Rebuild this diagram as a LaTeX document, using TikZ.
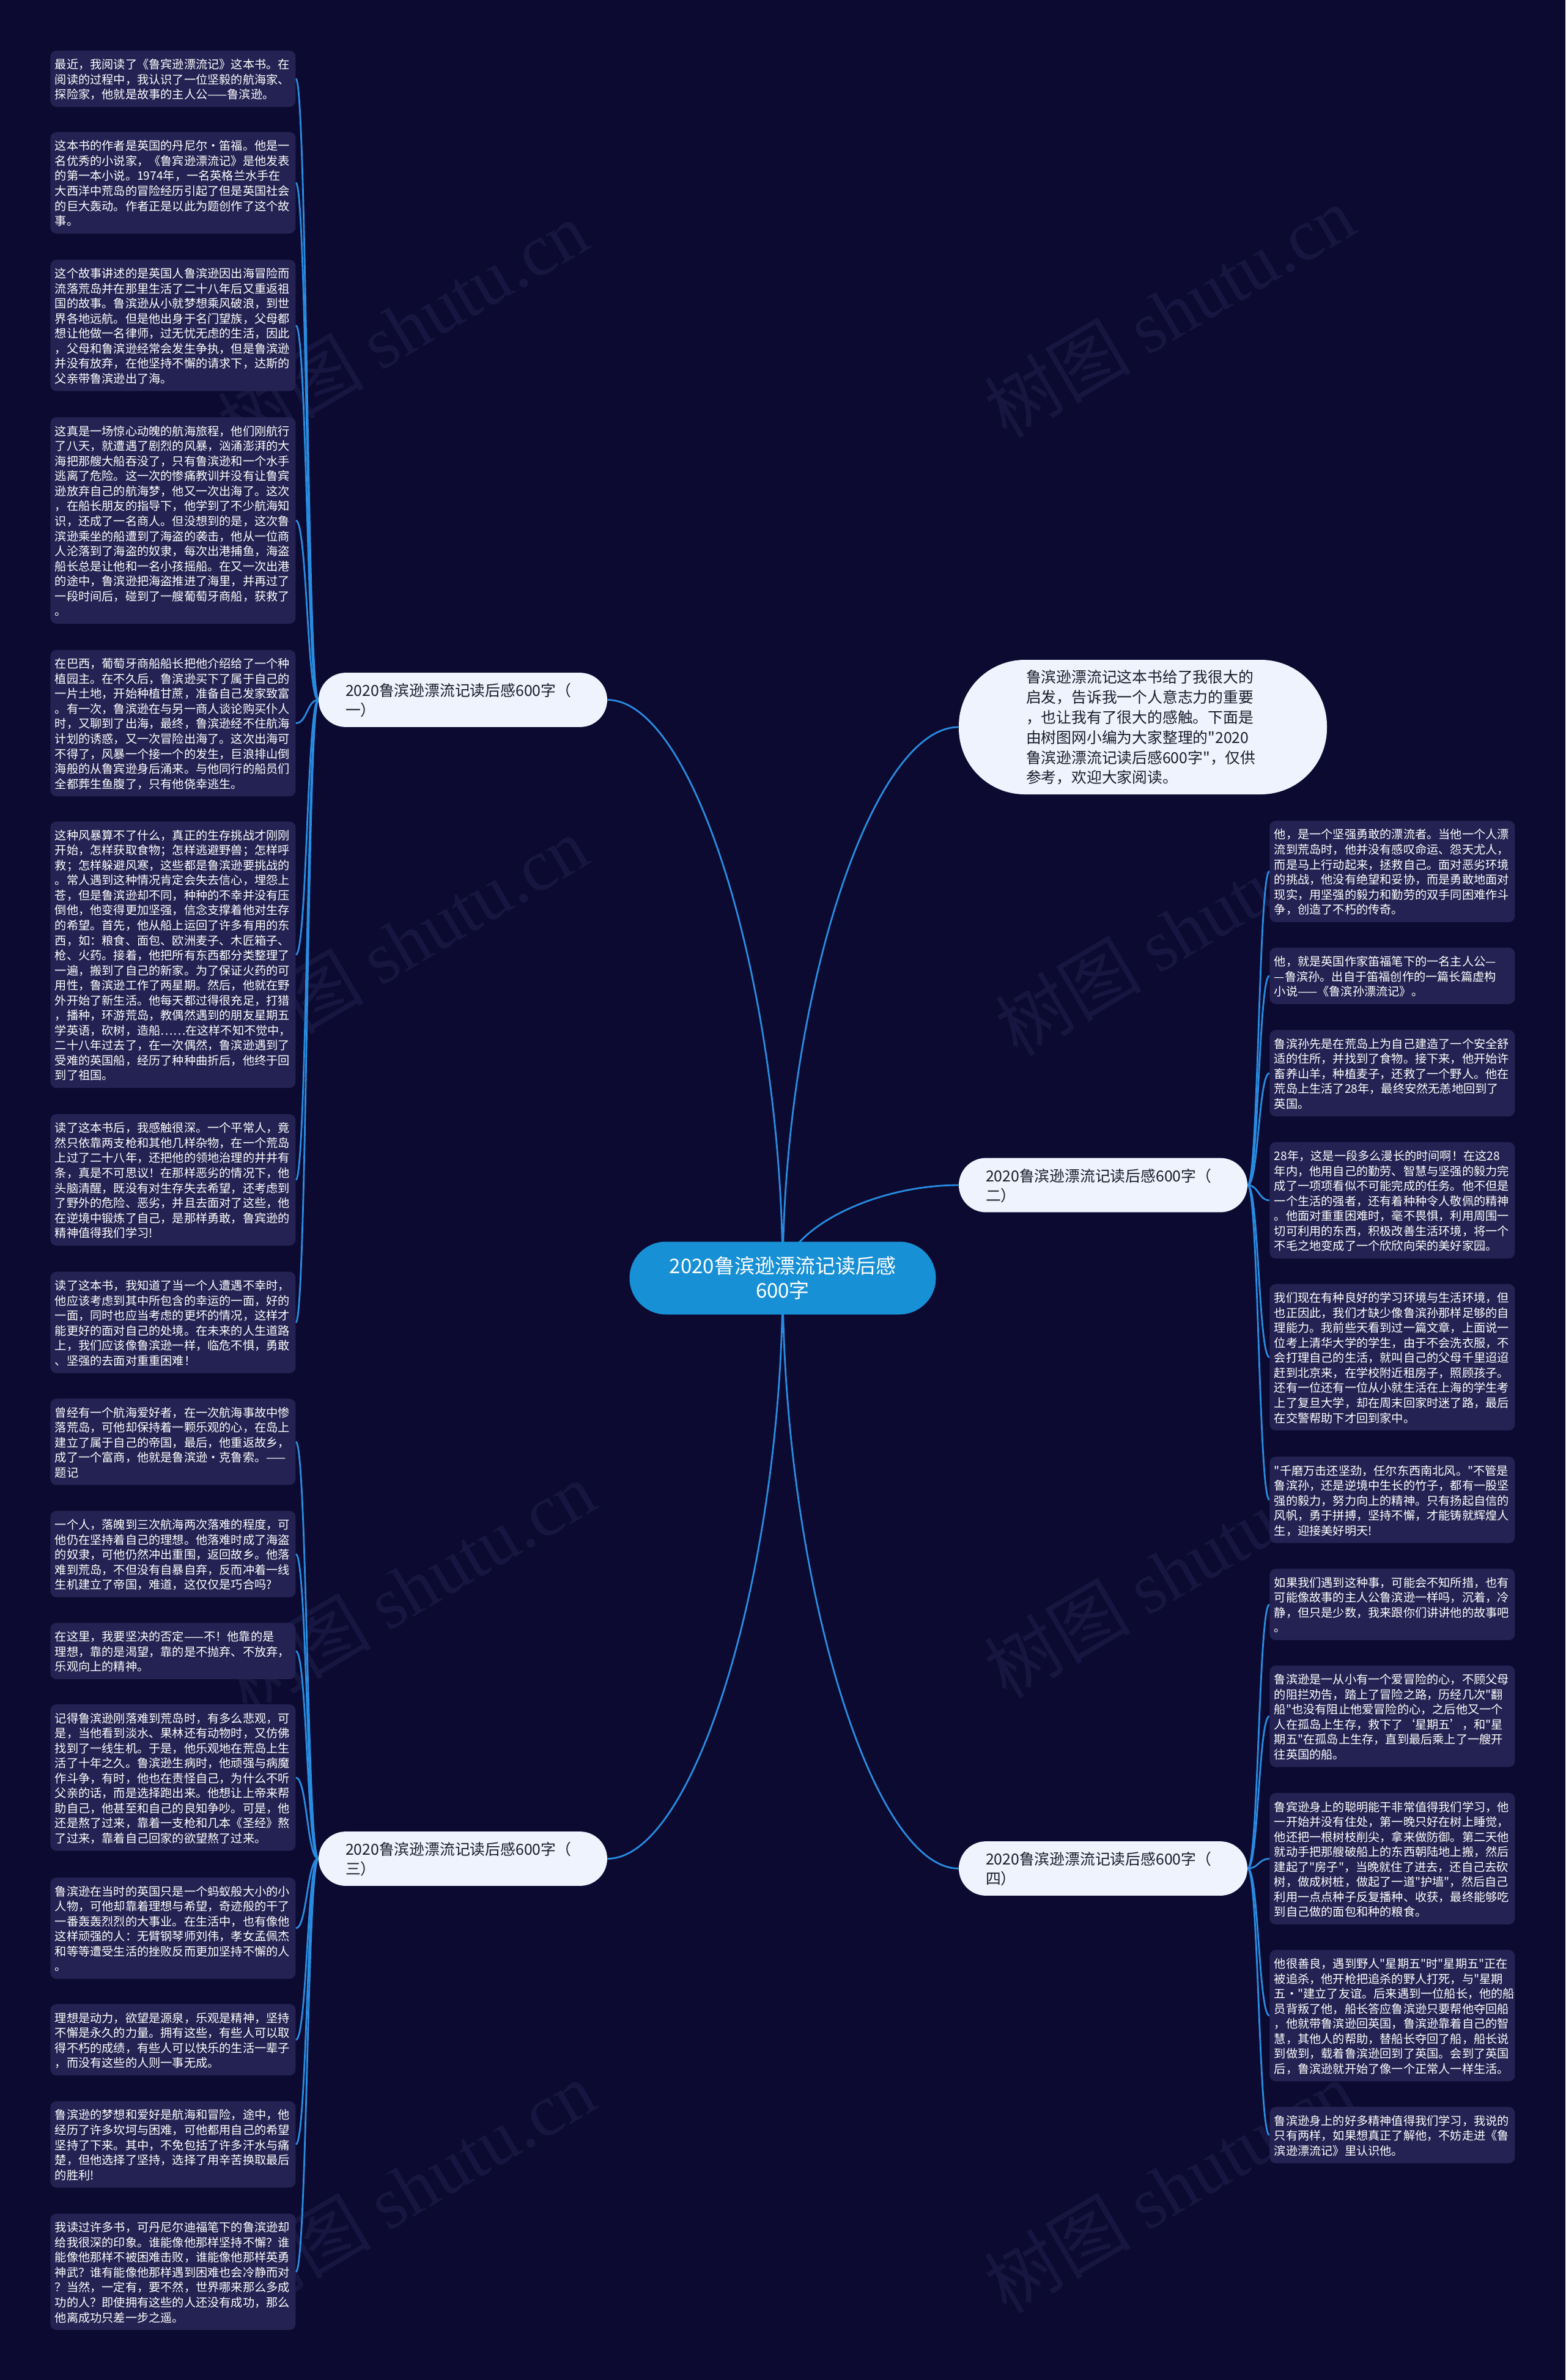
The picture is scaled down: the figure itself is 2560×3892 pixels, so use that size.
\documentclass[tikz,border=0pt]{standalone}
\usepackage{fontspec}
\setmainfont{Noto Sans CJK SC}[Ligatures=TeXOff]
\newfontfamily\wmlat{Liberation Serif}
\usetikzlibrary{calc}
\pgfdeclarelayer{back}
\pgfdeclarelayer{bg}
\pgfsetlayers{back,bg,main}
\definecolor{bgc}{RGB}{12,10,48}
\definecolor{leafc}{RGB}{36,34,82}
\definecolor{linec}{RGB}{40,140,225}
\definecolor{rootc}{RGB}{24,144,214}
\definecolor{lightc}{RGB}{238,243,253}
\definecolor{darkt}{RGB}{28,28,45}
\definecolor{wm}{RGB}{23,22,64}
\newcommand\lstrut{\rule[-1.96pt]{0pt}{12.275pt}}
\newcommand\leafont{\fontsize{9.6pt}{12.275pt}\selectfont}
\newcommand\brfont{\fontsize{12.4pt}{16.15pt}\selectfont}
\newcommand\bsa{\rule{0pt}{13.2pt}}
\newcommand\bsb{\rule[-3.05pt]{0pt}{3.05pt}}
\newcommand\isa{\rule{0pt}{12.7pt}}
\tikzset{
  leaf/.style={anchor=north west, fill=leafc, rounded corners=5pt, text=white,
    font=\leafont, align=left, text width=193pt, inner xsep=3.75pt, inner ysep=4.625pt},
  conn/.style={draw=linec, line width=1.4pt},
  branch/.style={fill=lightc, text=darkt, rounded corners=22.2pt, font=\brfont,
    align=left, text width=192pt, inner xsep=22pt, inner ysep=6pt},
  rootnode/.style={fill=rootc, text=white, rounded corners=29.7pt, align=center,
    font=\fontsize{16.5pt}{20pt}\selectfont, minimum width=250.5pt, minimum height=59.5pt},
  intronode/.style={fill=lightc, text=darkt, rounded corners=54pt,
    font=\fontsize{12.4pt}{16.45pt}\selectfont, align=left, text width=191pt,
    inner xsep=55pt, inner ysep=6pt},
  wmark/.style={text=wm, font=\fontsize{60pt}{62pt}\selectfont, rotate=30.5}
}
\newcommand\leafnode[4]{\node[leaf] (#1) at (#2,#3) {\noindent\lstrut #4\lstrut};}
\newcommand\lk[2]{\draw[conn] let \p1=(#1), \p2=(#2) in (\p1) .. controls ({(\x1+\x2)/2},\y1) and ({(\x1+\x2)/2},\y2) .. (\p2);}
\newcommand\lkv[2]{\draw[conn] let \p1=(#1), \p2=(#2) in (\p1) .. controls (\x1,{(\y1+\y2)/2}) and ({(\x1+\x2)/2},\y2) .. (\p2);}
\begin{document}
\begin{tikzpicture}[x=0.5pt,y=-0.5pt]
\begin{pgfonlayer}{back}
\fill[bgc] (0,0) rectangle (2560,3892);
\useasboundingbox (0,0) rectangle (2560,3892);
\node[wmark] (w1) at (658,534) {树图 {\wmlat shutu.cn}};
\node[wmark] (w2) at (1912,509) {树图 {\wmlat shutu.cn}};
\node[wmark] (w3) at (658,1540) {树图 {\wmlat shutu.cn}};
\node[wmark] (w4) at (1930,1520) {树图 {\wmlat shutu.cn}};
\node[wmark] (w5) at (670,2595) {树图 {\wmlat shutu.cn}};
\node[wmark] (w6) at (1912,2570) {树图 {\wmlat shutu.cn}};
\node[wmark] (w7) at (670,3576) {树图 {\wmlat shutu.cn}};
\node[wmark] (w8) at (1912,3576) {树图 {\wmlat shutu.cn}};
\end{pgfonlayer}

% root and first level
\node[rootnode] (root) at (1280,2090) {2020鲁滨逊漂流记读后感\\600字};
\node[intronode] (intro) at (1869,1189) {\isa 鲁滨逊漂流记这本书给了我很大的\\启发，告诉我一个人意志力的重要\\，也让我有了很大的感触。下面是\\由树图网小编为大家整理的"2020\\鲁滨逊漂流记读后感600字"，仅供\\参考，欢迎大家阅读。\bsb};
\node[branch] (b1) at (757,1144.5) {\bsa 2020鲁滨逊漂流记读后感600字（\\一）\bsb};
\node[branch] (b2) at (1804,1938) {\bsa 2020鲁滨逊漂流记读后感600字（\\二）\bsb};
\node[branch] (b3) at (757,3039.5) {\bsa 2020鲁滨逊漂流记读后感600字（\\三）\bsb};
\node[branch] (b4) at (1804,3055.5) {\bsa 2020鲁滨逊漂流记读后感600字（\\四）\bsb};

% left leaves
\leafnode{l1}{82}{82.3}{最近，我阅读了《鲁宾逊漂流记》这本书。在\\
阅读的过程中，我认识了一位坚毅的航海家、\\
探险家，他就是故事的主人公——鲁滨逊。}
\leafnode{l2}{82}{215.6}{这本书的作者是英国的丹尼尔·笛福。他是一\\
名优秀的小说家，《鲁宾逊漂流记》是他发表\\
的第一本小说。1974年，一名英格兰水手在\\
大西洋中荒岛的冒险经历引起了但是英国社会\\
的巨大轰动。作者正是以此为题创作了这个故\\
事。}
\leafnode{l3}{82}{424.3}{这个故事讲述的是英国人鲁滨逊因出海冒险而\\
流落荒岛并在那里生活了二十八年后又重返祖\\
国的故事。鲁滨逊从小就梦想乘风破浪，到世\\
界各地远航。但是他出身于名门望族，父母都\\
想让他做一名律师，过无忧无虑的生活，因此\\
，父母和鲁滨逊经常会发生争执，但是鲁滨逊\\
并没有放弃，在他坚持不懈的请求下，达斯的\\
父亲带鲁滨逊出了海。}
\leafnode{l4}{82}{681.9}{这真是一场惊心动魄的航海旅程，他们刚航行\\
了八天，就遭遇了剧烈的风暴，汹涌澎湃的大\\
海把那艘大船吞没了，只有鲁滨逊和一个水手\\
逃离了危险。这一次的惨痛教训并没有让鲁宾\\
逊放弃自己的航海梦，他又一次出海了。这次\\
，在船长朋友的指导下，他学到了不少航海知\\
识，还成了一名商人。但没想到的是，这次鲁\\
滨逊乘坐的船遭到了海盗的袭击，他从一位商\\
人沦落到了海盗的奴隶，每次出港捕鱼，海盗\\
船长总是让他和一名小孩摇船。在又一次出港\\
的途中，鲁滨逊把海盗推进了海里，并再过了\\
一段时间后，碰到了一艘葡萄牙商船，获救了\\
。}
\leafnode{l5}{82}{1062.5}{在巴西，葡萄牙商船船长把他介绍给了一个种\\
植园主。在不久后，鲁滨逊买下了属于自己的\\
一片土地，开始种植甘蔗，准备自己发家致富\\
。有一次，鲁滨逊在与另一商人谈论购买仆人\\
时，又聊到了出海，最终，鲁滨逊经不住航海\\
计划的诱惑，又一次冒险出海了。这次出海可\\
不得了，风暴一个接一个的发生，巨浪排山倒\\
海般的从鲁宾逊身后涌来。与他同行的船员们\\
全都葬生鱼腹了，只有他侥幸逃生。}
\leafnode{l6}{82}{1342.9}{这种风暴算不了什么，真正的生存挑战才刚刚\\
开始，怎样获取食物；怎样逃避野兽；怎样呼\\
救；怎样躲避风寒，这些都是鲁滨逊要挑战的\\
。常人遇到这种情况肯定会失去信心，埋怨上\\
苍，但是鲁滨逊却不同，种种的不幸并没有压\\
倒他，他变得更加坚强，信念支撑着他对生存\\
的希望。首先，他从船上运回了许多有用的东\\
西，如：粮食、面包、欧洲麦子、木匠箱子、\\
枪、火药。接着，他把所有东西都分类整理了\\
一遍，搬到了自己的新家。为了保证火药的可\\
用性，鲁滨逊工作了两星期。然后，他就在野\\
外开始了新生活。他每天都过得很充足，打猎\\
，播种，环游荒岛，教偶然遇到的朋友星期五\\
学英语，砍树，造船……在这样不知不觉中，\\
二十八年过去了，在一次偶然，鲁滨逊遇到了\\
受难的英国船，经历了种种曲折后，他终于回\\
到了祖国。}
\leafnode{l7}{82}{1821.5}{读了这本书后，我感触很深。一个平常人，竟\\
然只依靠两支枪和其他几样杂物，在一个荒岛\\
上过了二十八年，还把他的领地治理的井井有\\
条，真是不可思议！在那样恶劣的情况下，他\\
头脑清醒，既没有对生存失去希望，还考虑到\\
了野外的危险、恶劣，并且去面对了这些，他\\
在逆境中锻炼了自己，是那样勇敢，鲁宾逊的\\
精神值得我们学习!}
\leafnode{l8}{82}{2079.3}{读了这本书，我知道了当一个人遭遇不幸时，\\
他应该考虑到其中所包含的幸运的一面，好的\\
一面，同时也应当考虑的更坏的情况，这样才\\
能更好的面对自己的处境。在未来的人生道路\\
上，我们应该像鲁滨逊一样，临危不惧，勇敢\\
、坚强的去面对重重困难！}
\leafnode{l9}{82}{2286.8}{曾经有一个航海爱好者，在一次航海事故中惨\\
落荒岛，可他却保持着一颗乐观的心，在岛上\\
建立了属于自己的帝国，最后，他重返故乡，\\
成了一个富商，他就是鲁滨逊·克鲁索。——\\
题记}
\leafnode{l10}{82}{2470.3}{一个人，落魄到三次航海两次落难的程度，可\\
他仍在坚持着自己的理想。他落难时成了海盗\\
的奴隶，可他仍然冲出重围，返回故乡。他落\\
难到荒岛，不但没有自暴自弃，反而冲着一线\\
生机建立了帝国，难道，这仅仅是巧合吗?}
\leafnode{l11}{82}{2653.4}{在这里，我要坚决的否定——不！他靠的是\\
理想，靠的是渴望，靠的是不抛弃、不放弃，\\
乐观向上的精神。}
\leafnode{l12}{82}{2786.8}{记得鲁滨逊刚落难到荒岛时，有多么悲观，可\\
是，当他看到淡水、果林还有动物时，又仿佛\\
找到了一线生机。于是，他乐观地在荒岛上生\\
活了十年之久。鲁滨逊生病时，他顽强与病魔\\
作斗争，有时，他也在责怪自己，为什么不听\\
父亲的话，而是选择跑出来。他想让上帝来帮\\
助自己，他甚至和自己的良知争吵。可是，他\\
还是熬了过来，靠着一支枪和几本《圣经》熬\\
了过来，靠着自己回家的欲望熬了过来。}
\leafnode{l13}{82}{3069.9}{鲁滨逊在当时的英国只是一个蚂蚁般大小的小\\
人物，可他却靠着理想与希望，奇迹般的干了\\
一番轰轰烈烈的大事业。在生活中，也有像他\\
这样顽强的人：无臂钢琴师刘伟，孝女孟佩杰\\
和等等遭受生活的挫败反而更加坚持不懈的人\\
。}
\leafnode{l14}{82}{3276.8}{理想是动力，欲望是源泉，乐观是精神，坚持\\
不懈是永久的力量。拥有这些，有些人可以取\\
得不朽的成绩，有些人可以快乐的生活一辈子\\
，而没有这些的人则一事无成。}
\leafnode{l15}{82}{3435.6}{鲁滨逊的梦想和爱好是航海和冒险，途中，他\\
经历了许多坎坷与困难，可他都用自己的希望\\
坚持了下来。其中，不免包括了许多汗水与痛\\
楚，但他选择了坚持，选择了用辛苦换取最后\\
的胜利!}
\leafnode{l16}{82}{3619.4}{我读过许多书，可丹尼尔迪福笔下的鲁滨逊却\\
给我很深的印象。谁能像他那样坚持不懈？谁\\
能像他那样不被困难击败，谁能像他那样英勇\\
神武？谁有能像他那样遇到困难也会冷静而对\\
？当然，一定有，要不然，世界哪来那么多成\\
功的人？即使拥有这些的人还没有成功，那么\\
他离成功只差一步之遥。}

% right leaves
\leafnode{r1}{2076}{1341.7}{他，是一个坚强勇敢的漂流者。当他一个人漂\\
流到荒岛时，他并没有感叹命运、怨天尤人，\\
而是马上行动起来，拯救自己。面对恶劣环境\\
的挑战，他没有绝望和妥协，而是勇敢地面对\\
现实，用坚强的毅力和勤劳的双手同困难作斗\\
争，创造了不朽的传奇。}
\leafnode{r2}{2076}{1549.3}{他，就是英国作家笛福笔下的一名主人公—\\
—鲁滨孙。出自于笛福创作的一篇长篇虚构\\
小说——《鲁滨孙漂流记》。}
\leafnode{r3}{2076}{1684}{鲁滨孙先是在荒岛上为自己建造了一个安全舒\\
适的住所，并找到了食物。接下来，他开始许\\
畜养山羊，种植麦子，还救了一个野人。他在\\
荒岛上生活了28年，最终安然无恙地回到了\\
英国。}
\leafnode{r4}{2076}{1867.3}{28年，这是一段多么漫长的时间啊！在这28\\
年内，他用自己的勤劳、智慧与坚强的毅力完\\
成了一项项看似不可能完成的任务。他不但是\\
一个生活的强者，还有着种种令人敬佩的精神\\
。他面对重重困难时，毫不畏惧，利用周围一\\
切可利用的东西，积极改善生活环境，将一个\\
不毛之地变成了一个欣欣向荣的美好家园。}
\leafnode{r5}{2076}{2099.3}{我们现在有种良好的学习环境与生活环境，但\\
也正因此，我们才缺少像鲁滨孙那样足够的自\\
理能力。我前些天看到过一篇文章，上面说一\\
位考上清华大学的学生，由于不会洗衣服，不\\
会打理自己的生活，就叫自己的父母千里迢迢\\
赶到北京来，在学校附近租房子，照顾孩子。\\
还有一位还有一位从小就生活在上海的学生考\\
上了复旦大学，却在周末回家时迷了路，最后\\
在交警帮助下才回到家中。}
\leafnode{r6}{2076}{2381.7}{"千磨万击还坚劲，任尔东西南北风。"不管是\\
鲁滨孙，还是逆境中生长的竹子，都有一股坚\\
强的毅力，努力向上的精神。只有扬起自信的\\
风帆，勇于拼搏，坚持不懈，才能铸就辉煌人\\
生，迎接美好明天!}
\leafnode{r7}{2076}{2565}{如果我们遇到这种事，可能会不知所措，也有\\
可能像故事的主人公鲁滨逊一样吗，沉着，冷\\
静，但只是少数，我来跟你们讲讲他的故事吧\\
。}
\leafnode{r8}{2076}{2723.3}{鲁滨逊是一从小有一个爱冒险的心，不顾父母\\
的阻拦劝告，踏上了冒险之路，历经几次"翻\\
船"也没有阻止他爱冒险的心，之后他又一个\\
人在孤岛上生存，救下了‘星期五’，和"星\\
期五"在孤岛上生存，直到最后乘上了一艘开\\
往英国的船。}
\leafnode{r9}{2076}{2931.7}{鲁宾逊身上的聪明能干非常值得我们学习，他\\
一开始并没有住处，第一晚只好在树上睡觉，\\
他还把一根树枝削尖，拿来做防御。第二天他\\
就动手把那艘破船上的东西朝陆地上搬，然后\\
建起了"房子"，当晚就住了进去，还自己去砍\\
树，做成树桩，做起了一道"护墙"，然后自己\\
利用一点点种子反复播种、收获，最终能够吃\\
到自己做的面包和种的粮食。}
\leafnode{r10}{2076}{3188.3}{他很善良，遇到野人"星期五"时"星期五"正在\\
被追杀，他开枪把追杀的野人打死，与"星期\\
五·"建立了友谊。后来遇到一位船长，他的船\\
员背叛了他，船长答应鲁滨逊只要帮他夺回船\\
，他就带鲁滨逊回英国，鲁滨逊靠着自己的智\\
慧，其他人的帮助，替船长夺回了船，船长说\\
到做到，载着鲁滨逊回到了英国。会到了英国\\
后，鲁滨逊就开始了像一个正常人一样生活。}
\leafnode{r11}{2076}{3445}{鲁滨逊身上的好多精神值得我们学习，我说的\\
只有两样，如果想真正了解他，不妨走进《鲁\\
滨逊漂流记》里认识他。}

\begin{pgfonlayer}{bg}
\lkv{root.center}{b1.east}
\lkv{root.center}{b2.west}
\lkv{root.center}{b3.east}
\lkv{root.center}{b4.west}
\lkv{root.center}{intro.west}
\foreach \q in {l1,l2,l3,l4,l5,l6,l7,l8}{\lk{b1.west}{\q.east}}
\foreach \q in {l9,l10,l11,l12,l13,l14,l15,l16}{\lk{b3.west}{\q.east}}
\foreach \q in {r1,r2,r3,r4,r5,r6}{\lk{b2.east}{\q.west}}
\foreach \q in {r7,r8,r9,r10,r11}{\lk{b4.east}{\q.west}}
\end{pgfonlayer}
\end{tikzpicture}
\end{document}
